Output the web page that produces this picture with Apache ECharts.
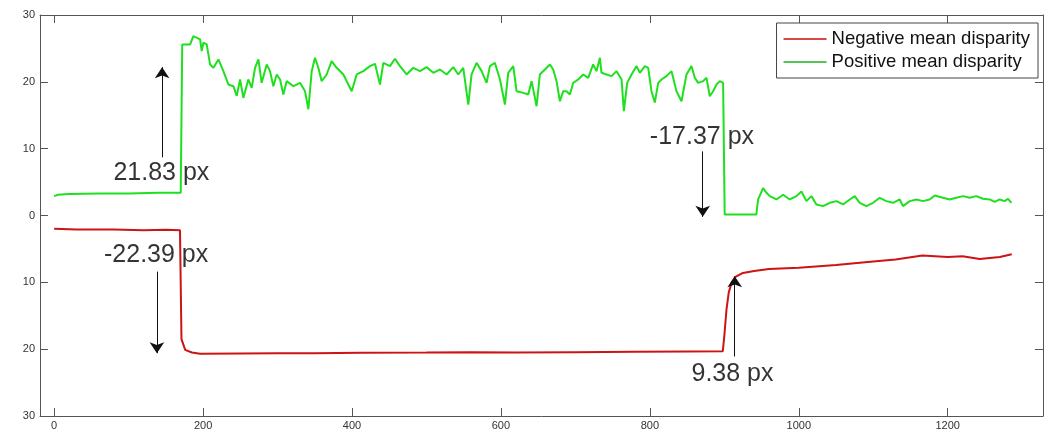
<!DOCTYPE html>
<html>
<head>
<meta charset="utf-8">
<title>Mean disparity</title>
<script src="https://cdn.jsdelivr.net/npm/echarts@6/dist/echarts.min.js"></script>
<style>
  html, body { margin: 0; padding: 0; background: #fff; }
  #chart { width: 1051px; height: 431px; }
</style>
</head>
<body>
<div id="chart"></div>
<script>
// tick labels
const xTicks = [0, 200, 400, 600, 800, 1000, 1200];
const yTicks = [-30, -20, -10, 0, 10, 20, 30];

// positive mean disparity (green)
const greenX = [0, 5, 20, 60, 100, 140, 170, 172, 182.6, 187, 189.3, 196, 198.2, 200.4, 204.9, 209.4, 213.9,
  220.6, 227.3, 234, 240.7, 245.2, 249.7, 254.1, 260.8, 265.3, 269.8, 274.3, 278.7, 285.5, 289.9, 294.4,
  298.9, 303.4, 307.8, 312.3, 321.3, 330.2, 336.9, 341.4, 345.9, 350.3, 354.8, 359.3, 366, 372.7, 379.4,
  388.4, 399.6, 406.3, 415.2, 424.2, 430.9, 437.6, 442.1, 451, 457.7, 464.4, 473.4, 482.3, 491.3, 500.2,
  509.2, 518.1, 527.1, 536, 542.7, 549.4, 556.2, 560.6, 567.3, 574.1, 580.8, 585.2, 591.9, 598.7, 605.4,
  609.8, 616.6, 621, 630, 636.7, 641.2, 647.9, 652.3, 659.1, 665.8, 670.2, 674.7, 679.2, 683.7, 688.1,
  692.6, 697.1, 703.8, 710.5, 717.2, 723.9, 728.4, 732.9, 735.1, 741.8, 748.5, 755.3, 762, 765.1, 769.6,
  775.4, 782.1, 786.6, 793.3, 797.8, 802.2, 806.7, 811.2, 815.7, 822.4, 829.1, 835.8, 842.5, 849.2, 855.9,
  860.4, 864.9, 871.6, 876.1, 880.5, 885, 889.5, 894, 898.4, 900.5, 943, 945.4, 952.1, 956.6, 961.1, 970,
  979, 987.9, 996.9, 1003.6, 1010.3, 1017, 1023.7, 1032.7, 1041.6, 1050.6, 1059.5, 1068.5, 1075.2, 1081.9,
  1090.8, 1099.8, 1108.7, 1117.7, 1126.6, 1135.6, 1140, 1149, 1158, 1166.9, 1175.8, 1182.6, 1193.7, 1202.7,
  1211.6, 1220.6, 1229.5, 1238.5, 1247.4, 1256.4, 1263.1, 1269.8, 1276.5, 1281, 1285.5];
const greenY = [2.9, 3.1, 3.2, 3.3, 3.3, 3.4, 3.4, 25.6, 25.6, 26.85, 27.0, 26.35, 24.6, 25.85, 25.6, 22.6, 22.1,
  23.35, 21.6, 19.6, 19.35, 17.9, 20.35, 17.6, 20.35, 19.1, 22.1, 23.35, 19.85, 22.6, 21.6, 19.35,
  21.1, 20.35, 18.1, 20.1, 19.35, 19.85, 18.6, 15.9, 21.6, 23.6, 22.1, 20.1, 21.1, 23.1, 22.1,
  21.1, 18.6, 21.1, 21.6, 22.35, 22.7, 19.6, 22.85, 22.35, 23.45, 22.35, 21.1, 22.1, 21.6, 22.2,
  21.35, 21.85, 21.1, 22.2, 21.1, 22.1, 16.6, 21.1, 22.85, 21.6, 19.85, 22.35, 22.85, 20.35, 16.6,
  21.35, 22.35, 18.6, 18.35, 18.1, 20.1, 16.35, 21.1, 21.85, 22.6, 21.85, 20.1, 17.1, 18.6, 18.6,
  18.1, 19.85, 20.35, 21.1, 20.6, 22.6, 21.6, 23.6, 21.35, 21.1, 20.85, 21.6, 20.35, 15.6, 19.85,
  21.1, 22.35, 21.35, 22.35, 22.1, 18.6, 16.9, 19.85, 20.35, 20.85, 21.6, 18.6, 17.1, 21.1, 22.35,
  20.6, 19.85, 20.1, 20.6, 17.85, 18.6, 19.6, 20.1, 19.85, 0.15, 0.15, 2.4, 4.1, 3.4, 2.9, 2.4,
  3.1, 2.4, 2.9, 3.6, 2.15, 2.9, 1.65, 1.4, 1.9, 2.15, 1.65, 2.4, 2.9, 1.9,
  1.4, 1.9, 2.65, 2.15, 1.9, 2.4, 1.4, 2.15, 2.4, 2.15, 2.4, 3.0, 2.65, 2.4,
  2.65, 2.9, 2.65, 2.9, 2.5, 2.4, 2.05, 2.4, 2.15, 2.5, 1.9];

// negative mean disparity (red)
const redX = [0, 30, 80, 120, 150, 169, 171, 176, 185, 196, 250, 300, 350, 411, 500, 560, 620, 700, 780, 850,
  898, 900, 903, 906, 910, 915, 925, 940, 960, 1000, 1050, 1100, 1130, 1166, 1200, 1220, 1243, 1270, 1286];
const redY = [-2.0, -2.1, -2.1, -2.2, -2.15, -2.2, -18.5, -20.1, -20.5, -20.7, -20.65, -20.6, -20.6, -20.55,
  -20.5, -20.45, -20.5, -20.45, -20.4, -20.35, -20.3, -18, -14, -11.5, -10, -9.2, -8.6, -8.3, -8.0, -7.8,
  -7.4, -6.9, -6.6, -6.0, -6.2, -6.1, -6.5, -6.2, -5.8];

// annotations (data coordinates)
const annText = ['21.83 px', '-22.39 px', '-17.37 px', '9.38 px'];
const annX = [144, 137, 870, 911];
const annY = [6.3, -6.0, 11.8, -23.8];
const arrowFrom = [[145, 8.7], [138, -8.4], [871, 9.6], [914, -21.1]];
const arrowTo = [[145, 22.2], [138, -20.6], [871, -0.2], [914, -9.1]];

const zip = (xs, ys) => xs.map((x, i) => [x, ys[i]]);

const chart = echarts.init(document.getElementById('chart'));

const axisLineStyle = { color: '#555', width: 1 };
const labelFont = { fontFamily: 'Liberation Sans, Arial, sans-serif', fontSize: 11, color: '#333' };
// plain line as legend icon
const lineIcon = 'path://M0,0 L43,0 L43,2 L0,2 Z';

chart.setOption({
  animation: false,
  backgroundColor: '#fff',
  grid: { left: 40, right: 8, top: 15, bottom: 15, containLabel: false },
  legend: {
    data: [
      { name: 'Negative mean disparity', icon: lineIcon },
      { name: 'Positive mean disparity', icon: lineIcon }
    ],
    orient: 'vertical',
    right: 13,
    top: 23,
    itemWidth: 43,
    itemHeight: 2,
    itemGap: 3,
    padding: [6, 8, 6, 7],
    borderColor: '#444',
    borderWidth: 1,
    backgroundColor: '#fff',
    textStyle: { fontFamily: 'Liberation Sans, Arial, sans-serif', fontSize: 18.5, lineHeight: 20, color: '#111' }
  },
  xAxis: [
    {
      type: 'value', min: -19, max: 1328,
      splitLine: { show: false },
      axisLine: { onZero: false, lineStyle: axisLineStyle },
      axisTick: { inside: true, length: 8, customValues: xTicks, lineStyle: axisLineStyle },
      axisLabel: Object.assign({ customValues: xTicks, margin: 4, formatter: (v) => String(v) }, labelFont)
    },
    {
      type: 'value', position: 'top', min: -19, max: 1328,
      splitLine: { show: false },
      axisLine: { onZero: false, lineStyle: axisLineStyle },
      axisTick: { inside: true, length: 8, customValues: xTicks, lineStyle: axisLineStyle },
      axisLabel: { show: false }
    }
  ],
  yAxis: [
    {
      type: 'value', min: -30, max: 30, interval: 10,
      splitLine: { show: false },
      axisLine: { onZero: false, lineStyle: axisLineStyle },
      axisTick: { inside: true, length: 8, customValues: yTicks, lineStyle: axisLineStyle },
      axisLabel: Object.assign({ customValues: yTicks, margin: 5, formatter: (v) => String(Math.abs(v)) }, labelFont)
    },
    {
      type: 'value', position: 'right', min: -30, max: 30, interval: 10,
      splitLine: { show: false },
      axisLine: { onZero: false, lineStyle: axisLineStyle },
      axisTick: { inside: true, length: 8, customValues: yTicks, lineStyle: axisLineStyle },
      axisLabel: { show: false }
    }
  ],
  series: [
    {
      name: 'Negative mean disparity',
      type: 'line',
      symbol: 'none',
      lineStyle: { color: '#cc1414', width: 2 },
      itemStyle: { color: '#d44a4a' },
      data: zip(redX, redY)
    },
    {
      name: 'Positive mean disparity',
      type: 'line',
      symbol: 'none',
      lineStyle: { color: '#1fe01f', width: 2 },
      itemStyle: { color: '#55c455' },
      data: zip(greenX, greenY)
    },
    {
      name: 'annotations',
      type: 'scatter',
      symbolSize: 0,
      silent: true,
      z: 5,
      label: {
        show: true,
        position: 'inside',
        formatter: (p) => annText[p.dataIndex],
        fontFamily: 'Liberation Sans, Arial, sans-serif',
        fontSize: 25,
        color: '#000'
      },
      data: zip(annX, annY),
      markLine: {
        silent: true,
        symbol: ['none', 'arrow'],
        symbolSize: 11,
        label: { show: false },
        lineStyle: { color: '#111', width: 1, type: 'solid' },
        data: arrowFrom.map((a, i) => [{ coord: a }, { coord: arrowTo[i] }])
      }
    }
  ]
});
</script>
</body>
</html>
